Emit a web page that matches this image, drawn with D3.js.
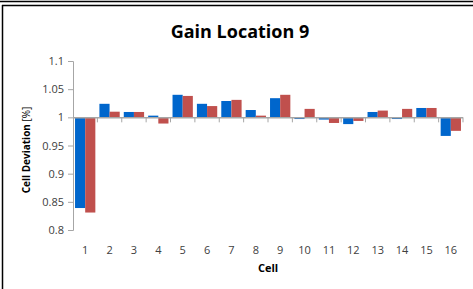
<!DOCTYPE html>
<html>
<head>
<meta charset="utf-8">
<script src="https://cdn.jsdelivr.net/npm/d3@7"></script>
<style>
  body { margin: 0; background: #fff; }
  svg text { font-family: "Open Sans", "Noto Sans", sans-serif; }
</style>
</head>
<body>
<svg id="chart"></svg>
<script>
// data
const cells = ["1","2","3","4","5","6","7","8","9","10","11","12","13","14","15","16"];
const seriesA = [0.839, 1.024, 1.0095, 1.003, 1.040, 1.024, 1.029, 1.013, 1.034, 0.997, 0.996, 0.988, 1.0095, 0.997, 1.0166, 0.967];
const seriesB = [0.831, 1.010, 1.0095, 0.989, 1.038, 1.020, 1.031, 1.003, 1.040, 1.015, 0.990, 0.9936, 1.012, 1.015, 1.0166, 0.976];
const yTicks = [0.8, 0.85, 0.9, 0.95, 1, 1.05, 1.1];
const colors = ["#0066CC", "#C0504D"];

const width = 473, height = 289;
const margin = {top: 61, right: 10, bottom: 59, left: 73};

const svg = d3.select("#chart")
  .attr("width", width)
  .attr("height", height);

// frame lines
svg.append("line").attr("x1", 0).attr("x2", width).attr("y1", 1.5).attr("y2", 1.5)
  .attr("stroke", "#000").attr("stroke-width", 1.5);
svg.append("line").attr("x1", 2).attr("x2", width).attr("y1", 5.5).attr("y2", 5.5)
  .attr("stroke", "#000").attr("stroke-width", 1.5);
svg.append("line").attr("x1", 2.5).attr("x2", 2.5).attr("y1", 5).attr("y2", height)
  .attr("stroke", "#000").attr("stroke-width", 1.5);

const innerW = 463 - margin.left;
const innerH = 230 - margin.top;

const chart = svg.append("g")
  .attr("transform", `translate(${margin.left},${margin.top})`);

const x = d3.scaleBand().domain(cells).range([0, innerW]).paddingInner(0).paddingOuter(0);
const y = d3.scaleLinear().domain([0.8, 1.1]).range([innerH, 0]);
const bw = x.bandwidth() / 2.4;

// y axis
const yAxis = d3.axisLeft(y).tickValues(yTicks).tickSize(5).tickPadding(4)
  .tickFormat(d => d3.format("")(+d.toFixed(2)));
const yG = chart.append("g").call(yAxis);
yG.select(".domain").attr("stroke", "#A6A6A6").attr("d", `M-5,${innerH}.5H0.5V0.5H-5`);
yG.selectAll(".tick line").attr("stroke", "#A6A6A6");
yG.selectAll(".tick text").attr("font-size", 11).attr("fill", "#404040");

// bars
const series = [seriesA, seriesB];
series.forEach((vals, si) => {
  chart.append("g").selectAll("rect")
    .data(vals)
    .enter()
    .append("rect")
      .attr("x", (d, i) => x(cells[i]) + bw * 0.2 + si * bw)
      .attr("width", bw)
      .attr("y", d => y(Math.max(d, 1)))
      .attr("height", d => Math.abs(y(d) - y(1)))
      .attr("fill", colors[si]);
});

// category axis crossing at 1
const xG = chart.append("g").attr("transform", `translate(0,${y(1)})`);
xG.append("line").attr("x1", 0).attr("x2", innerW).attr("y1", 0.5).attr("y2", 0.5)
  .attr("stroke", "#A6A6A6").attr("stroke-width", 1.5);
xG.selectAll("line.tk")
  .data(cells)
  .enter()
  .append("line")
    .attr("class", "tk")
    .attr("x1", d => x(d) + x.bandwidth())
    .attr("x2", d => x(d) + x.bandwidth())
    .attr("y1", 0).attr("y2", 5)
    .attr("stroke", "#A6A6A6");

// category labels at the bottom
chart.append("g").selectAll("text")
  .data(cells)
  .enter()
  .append("text")
    .attr("x", d => x(d) + x.bandwidth() / 2)
    .attr("y", innerH + 24)
    .attr("text-anchor", "middle")
    .attr("font-size", 11)
    .attr("fill", "#404040")
    .text(d => d);

// titles
svg.append("text")
  .attr("x", 240).attr("y", 38)
  .attr("text-anchor", "middle")
  .attr("font-size", 18).attr("font-weight", "bold")
  .text("Gain Location 9");

svg.append("text")
  .attr("x", 268).attr("y", 272)
  .attr("text-anchor", "middle")
  .attr("font-size", 11).attr("font-weight", "bold")
  .text("Cell");

const yl = svg.append("text")
  .attr("transform", "translate(30,150) rotate(-90)")
  .attr("text-anchor", "middle")
  .attr("font-size", 10);
yl.append("tspan").attr("font-weight", "bold").text("Cell Deviation ");
yl.append("tspan").text("[%]");
</script>
</body>
</html>
